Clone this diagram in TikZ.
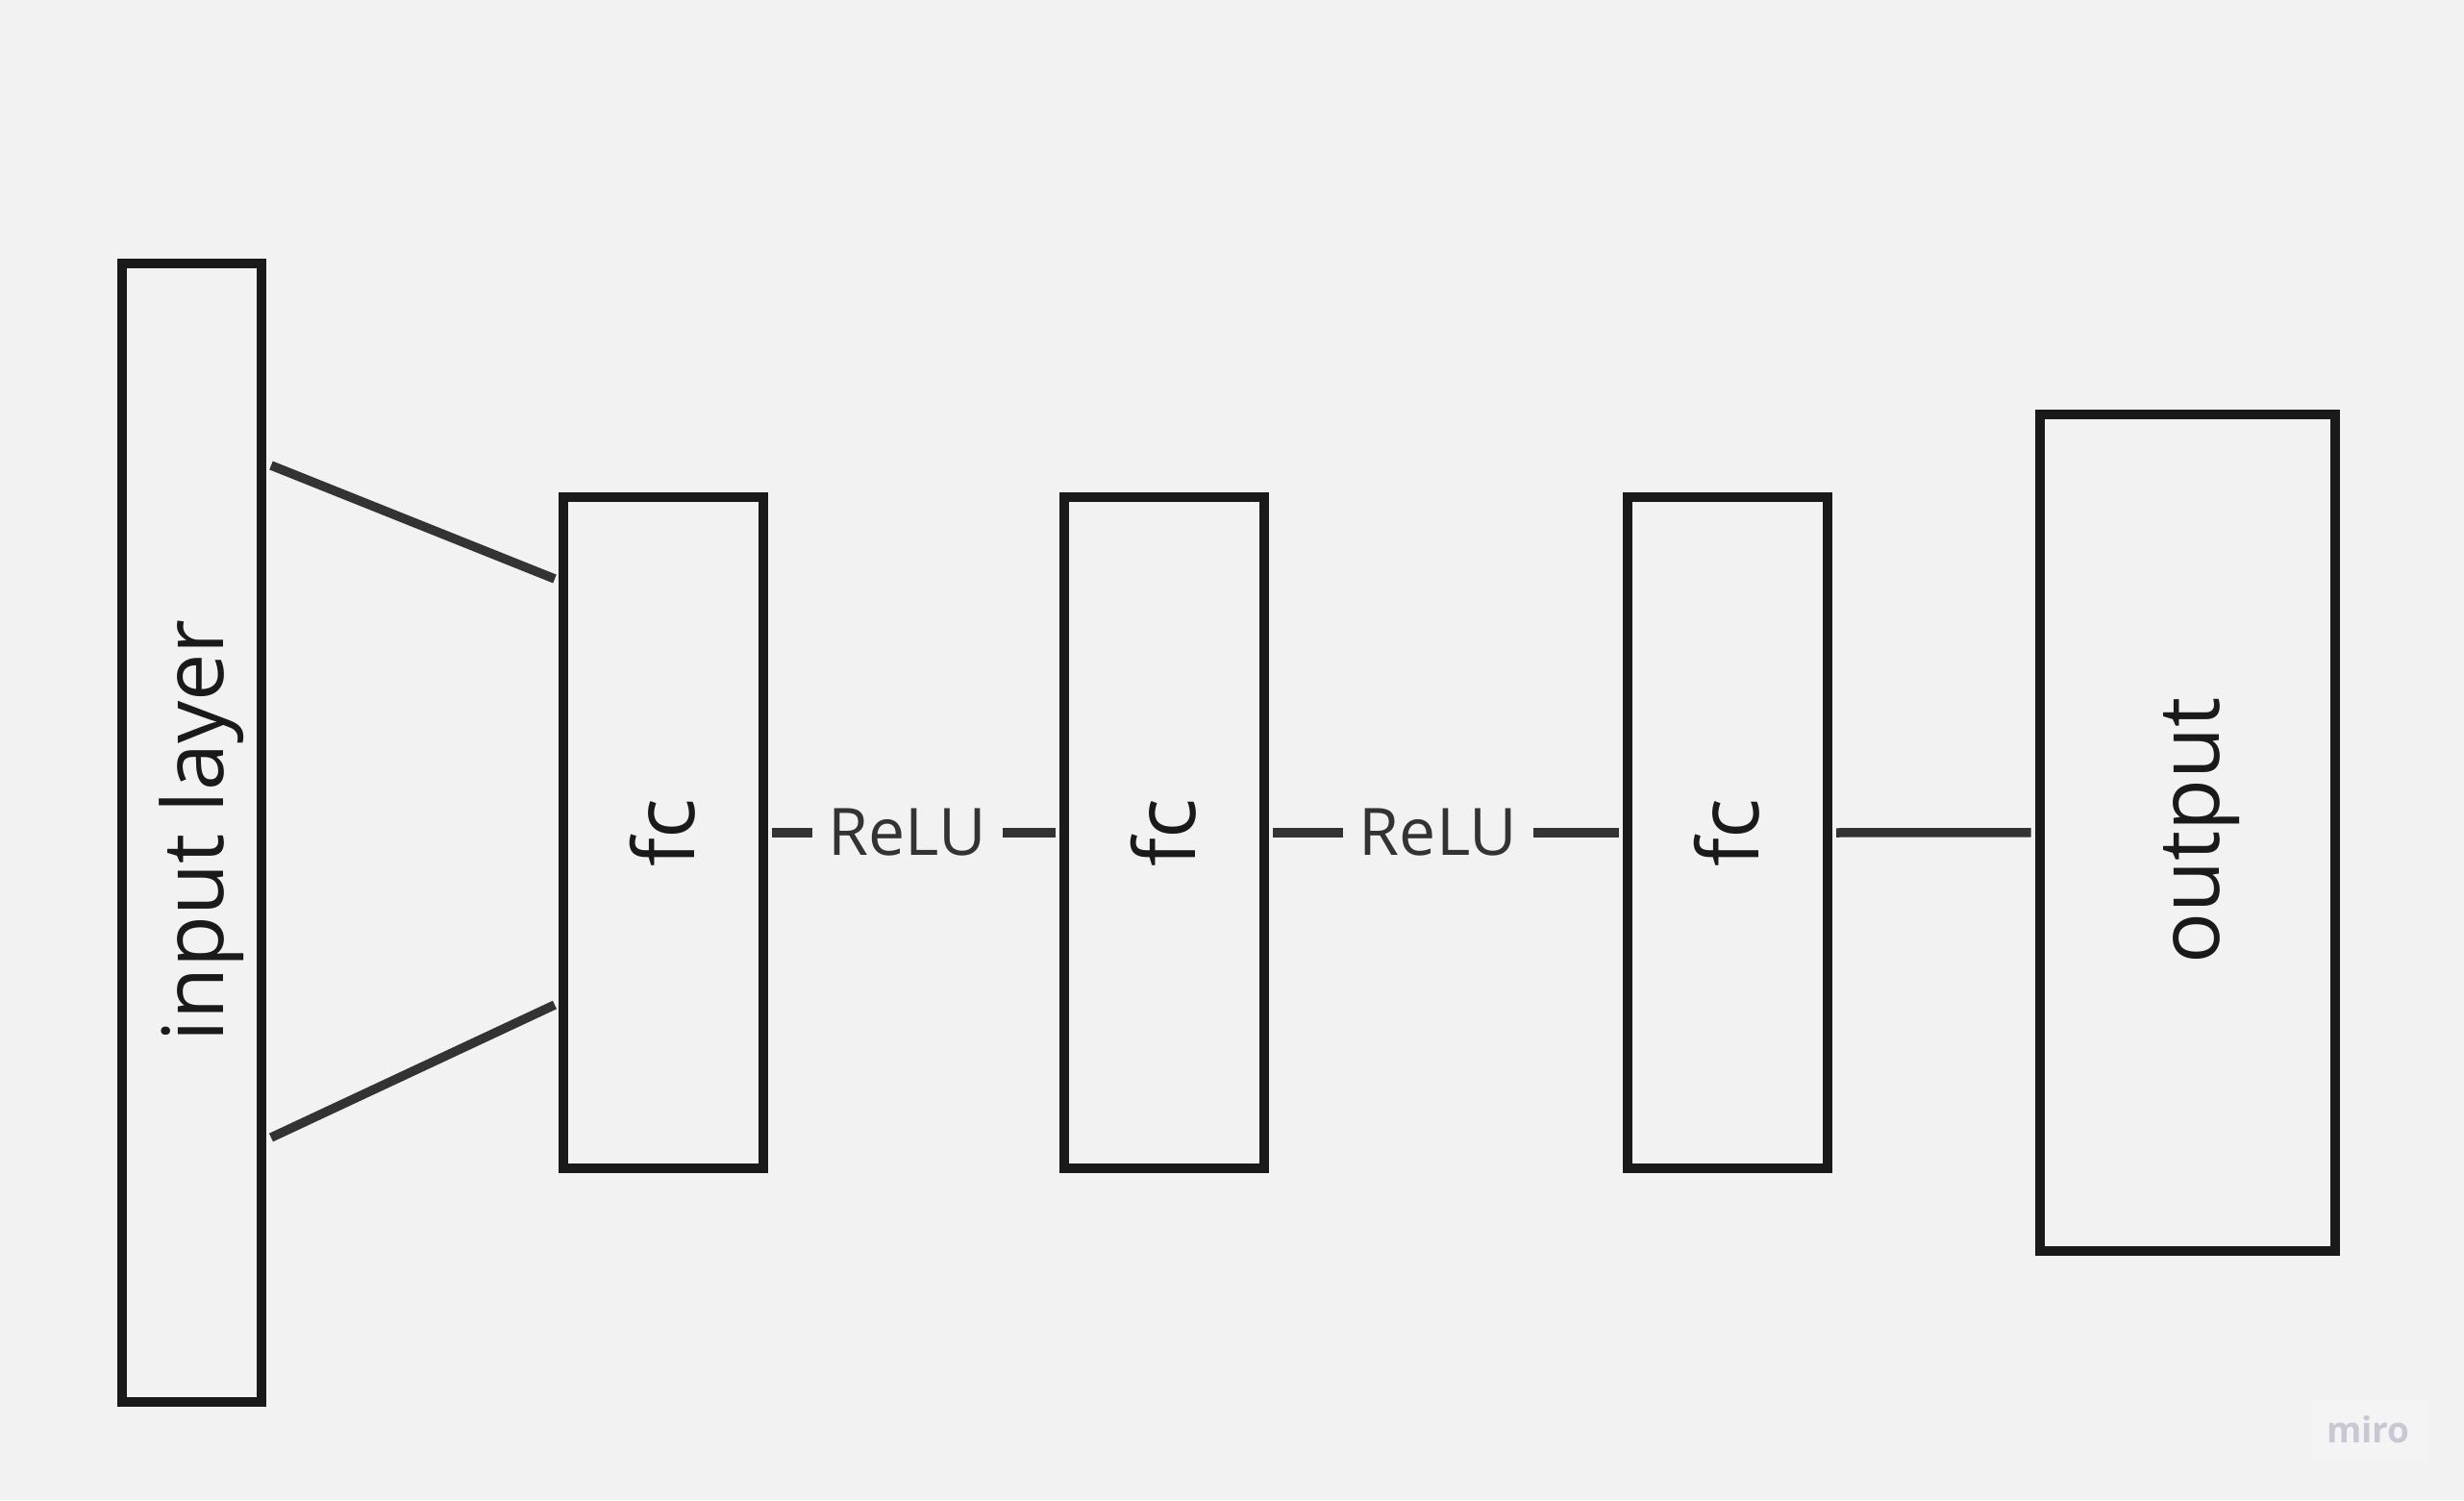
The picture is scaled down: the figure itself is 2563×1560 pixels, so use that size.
\documentclass[tikz,border=0pt]{standalone}
\usepackage{fontspec}
\setmainfont{Open Sans}
\usetikzlibrary{calc}
\definecolor{bg}{HTML}{F2F2F2}
\definecolor{boxline}{HTML}{1A1A1A}
\definecolor{conn}{HTML}{333333}
\definecolor{wm}{HTML}{C8C8D4}
\definecolor{wmbg}{HTML}{F4F4F4}
\begin{document}
\begin{tikzpicture}[x=1pt,y=-1pt,
  layerbox/.style={draw=boxline, line width=10pt, fill=none, inner sep=0pt, outer sep=0pt},
  vlabel/.style={rotate=90, anchor=base, text=boxline, font=\fontsize{88}{100}\selectfont, inner sep=0pt},
  connector/.style={draw=conn, line width=9.5pt},
  relulabel/.style={fill=bg, text=conn, inner xsep=17pt, inner ysep=0pt, font=\fontsize{68}{80}\selectfont}
]
\fill[bg] (0,0) rectangle (2563,1560);
\useasboundingbox (0,0) rectangle (2563,1560);

% boxes
\node[layerbox, minimum width=145pt, minimum height=1184pt] (in) at (199.5,866.2) {};
\node[vlabel] (inlbl) at ($(in.center)+(32.5,-2.5)$) {input layer};
\node[layerbox, minimum width=208pt, minimum height=698pt] (fc1) at (690,866) {};
\node[vlabel] (fc1lbl) at ($(fc1.center)+(32,0)$) {fc};
\node[layerbox, minimum width=208pt, minimum height=698pt] (fc2) at (1211,866) {};
\node[vlabel] (fc2lbl) at ($(fc2.center)+(32,0)$) {fc};
\node[layerbox, minimum width=208pt, minimum height=698pt] (fc3) at (1797,866) {};
\node[vlabel] (fc3lbl) at ($(fc3.center)+(32,0)$) {fc};
\node[layerbox, minimum width=307pt, minimum height=870.5pt] (out) at (2275.5,865.8) {};
\node[vlabel] (outlbl) at ($(out.center)+(32.5,-2)$) {output};

% fan-in connectors
\coordinate (a1) at (282,484);
\coordinate (b1) at (577,602);
\coordinate (a2) at (282,1183);
\coordinate (b2) at (577,1045);
\draw[connector] (a1) -- (b1);
\draw[connector] (a2) -- (b2);

% chain connectors
\draw[connector, shorten <=8.5pt, shorten >=9pt] (fc1.east) -- node[relulabel, pos=0.479] (relu1) {ReLU} (fc2.west);
\draw[connector, shorten <=9pt, shorten >=9pt] (fc2.east) -- node[relulabel, pos=0.479] (relu2) {ReLU} (fc3.west);
\draw[connector, shorten <=9pt, shorten >=9.5pt] (fc3.east) -- (out.west);

% watermark
\node[fill=wmbg, minimum width=121pt, minimum height=63pt, inner sep=0pt] (wmk) at (2464.5,1487.5) {};
\node[text=wm, anchor=base, inner sep=0pt, font=\fontsize{37}{40}\selectfont\bfseries] (wmtxt) at (2463.5,1500) {miro};
\end{tikzpicture}
\end{document}
